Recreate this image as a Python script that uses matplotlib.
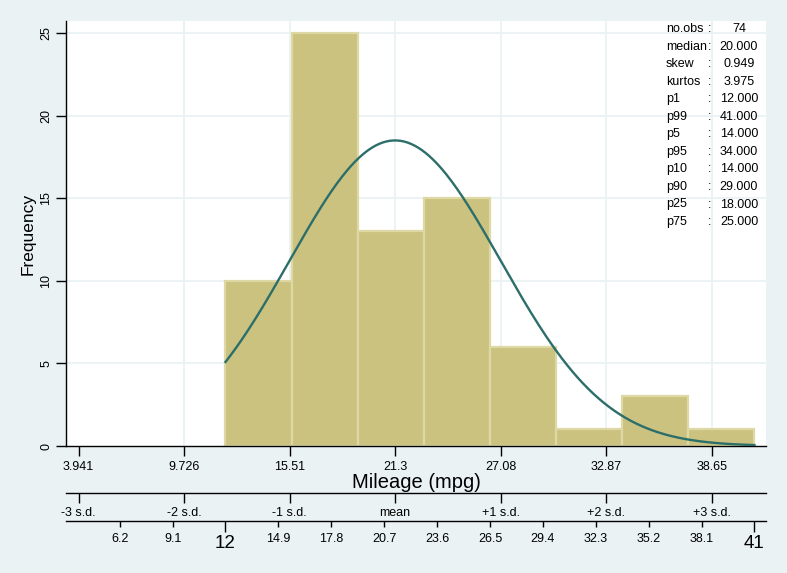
import numpy as np
import matplotlib
matplotlib.use("Agg")
import matplotlib.pyplot as plt

plt.rcParams['font.family'] = ['Liberation Sans', 'DejaVu Sans']

# ---- data ----
bin_start = 12.0
bin_width = 3.625
counts = [10, 25, 13, 15, 6, 1, 3, 1]
n_obs = 74
mean_mpg = 21.2973
sd_mpg = 5.7855

sd_ticks = [3.941, 9.726, 15.51, 21.3, 27.08, 32.87, 38.65]
sd_tick_labels = ["3.941", "9.726", "15.51", "21.3", "27.08", "32.87", "38.65"]
sd_names = ["-3 s.d.", "-2 s.d.", "-1 s.d.", "mean", "+1 s.d.", "+2 s.d.", "+3 s.d."]
minmax_ticks = [12, 41]
minmax_labels = ["12", "41"]
step_ticks = [6.2, 9.1, 14.9, 17.8, 20.7, 23.6, 26.5, 29.4, 32.3, 35.2, 38.1]
step_labels = ["6.2", "9.1", "14.9", "17.8", "20.7", "23.6", "26.5", "29.4", "32.3", "35.2", "38.1"]
y_ticks = [0, 5, 10, 15, 20, 25]

stat_names = ["no.obs", "median", "skew", "kurtos", "p1", "p99", "p5", "p95",
              "p10", "p90", "p25", "p75"]
stat_values = ["74", "20.000", "0.949", "3.975", "12.000", "41.000", "14.000",
               "34.000", "14.000", "29.000", "18.000", "25.000"]

# ---- styling ----
W, H = 787, 573
BG = '#EAF2F3'
GRID = '#EAF2F3'
BAR = '#CBC280'
BAR_EDGE = '#DDD8A4'
CURVE = '#2C6E69'
FS = 9

fig = plt.figure(figsize=(W / 100, H / 100), dpi=100, facecolor=BG)

def fx(px):
    return px / W

def fy(py):
    return 1 - py / H

L, R, T, B = 66, 766, 21, 446
XMIN = 3.941 - 12.5 / 18.24
XMAX = 3.941 + (766 - 78.5) / 18.24

ax = fig.add_axes([fx(L), fy(B), fx(R - L), (B - T) / H])
ax.set_facecolor('white')
ax.set_xlim(XMIN, XMAX)
ax.set_ylim(0, 25 + 12 / 16.52)

# gridlines
for yv in y_ticks[1:]:
    ax.axhline(yv, color=GRID, lw=1.3, zorder=0)
for xv in sd_ticks[1:]:
    ax.axvline(xv, color=GRID, lw=1.3, zorder=0)

# bars
edges = [bin_start + i * bin_width for i in range(len(counts))]
ax.bar(edges, counts, width=bin_width, align='edge', color=BAR,
       edgecolor=BAR_EDGE, linewidth=1.6, zorder=2)

# normal curve
xs = np.linspace(bin_start, bin_start + bin_width * len(counts), 300)
ys = n_obs * bin_width * np.exp(-0.5 * ((xs - mean_mpg) / sd_mpg) ** 2) / (sd_mpg * np.sqrt(2 * np.pi))
ax.plot(xs, ys, color=CURVE, lw=1.7, zorder=3)

for s in ['top', 'right']:
    ax.spines[s].set_visible(False)
for s in ['left', 'bottom']:
    ax.spines[s].set_linewidth(1.0)
ax.set_yticks(y_ticks)
ax.set_yticklabels([str(v) for v in y_ticks], rotation=90, va='center', fontsize=FS)
ax.set_xticks(sd_ticks)
ax.set_xticklabels(sd_tick_labels, fontsize=FS)
ax.tick_params(axis='both', length=7, width=1.0, pad=3)
ax.tick_params(axis='x', pad=4)
ax.set_ylabel("Frequency", fontsize=12.5, labelpad=3)
ax.set_xlabel("Mileage (mpg)", fontsize=14.5, labelpad=0)

# second axis (s.d. names)
ax2 = fig.add_axes([fx(L), fy(493), fx(R - L), 0.0001])
ax2.set_xlim(XMIN, XMAX)
ax2.set_facecolor('none')
for s in ['top', 'right', 'left']:
    ax2.spines[s].set_visible(False)
ax2.spines['bottom'].set_linewidth(1.0)
ax2.set_yticks([])
ax2.set_xticks(sd_ticks)
ax2.set_xticklabels(sd_names, fontsize=FS)
ax2.tick_params(axis='x', length=7, width=1.0, pad=3)

# third axis (min/max and steps)
ax3 = fig.add_axes([fx(L), fy(521), fx(R - L), 0.0001])
ax3.set_xlim(XMIN, XMAX)
ax3.set_facecolor('none')
for s in ['top', 'right', 'left']:
    ax3.spines[s].set_visible(False)
ax3.spines['bottom'].set_linewidth(1.0)
ax3.set_yticks([])
ax3.set_xticks(minmax_ticks)
ax3.set_xticklabels(minmax_labels, fontsize=13.5)
ax3.set_xticks(step_ticks, minor=True)
ax3.set_xticklabels(step_labels, minor=True, fontsize=FS)
ax3.tick_params(axis='x', which='major', length=8, width=1.0, pad=2)
ax3.tick_params(axis='x', which='minor', length=4, width=1.0, pad=5)

# stats table
for i, (nm, val) in enumerate(zip(stat_names, stat_values)):
    yc = 29 + 17.55 * i
    fig.text(fx(666), fy(yc), nm, fontsize=FS, ha='left', va='center')
    fig.text(fx(710), fy(yc), ":", fontsize=FS, ha='center', va='center')
    fig.text(fx(739), fy(yc), val, fontsize=FS, ha='center', va='center')

fig.savefig("out.png", dpi=100, facecolor=BG)
